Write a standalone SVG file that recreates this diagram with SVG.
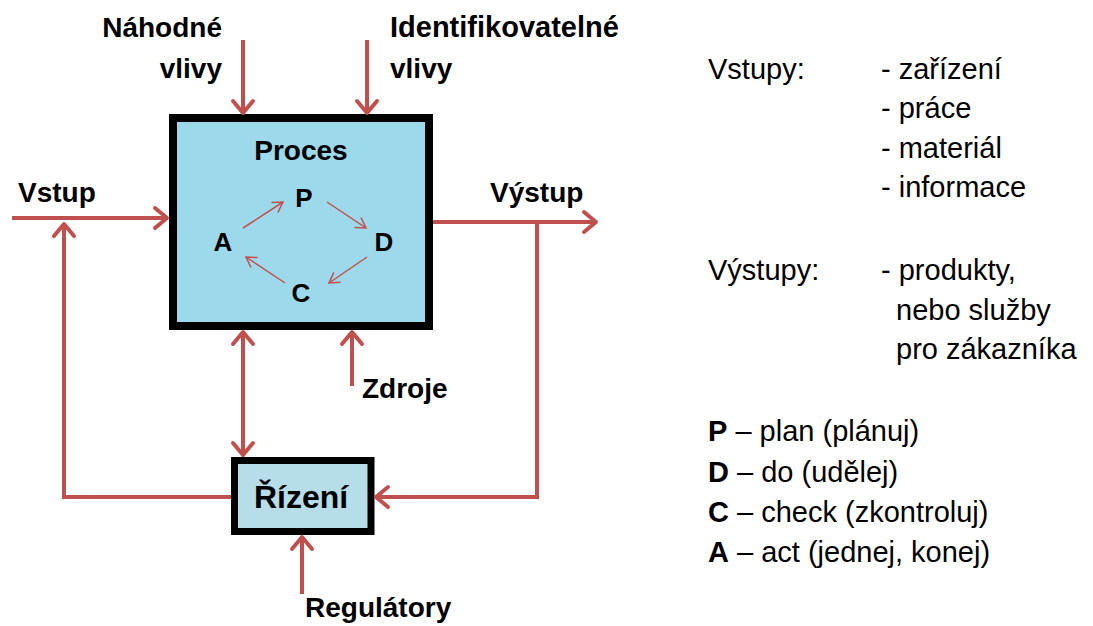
<svg xmlns="http://www.w3.org/2000/svg" width="1093" height="626" viewBox="0 0 1093 626">
<style>
.lbl{font-family:"Liberation Sans",Arial,sans-serif;font-weight:bold;font-size:28px;fill:#000}
.pd{font-family:"Liberation Sans",Arial,sans-serif;font-weight:bold;font-size:26px;fill:#000}
.txt{font-family:"Liberation Sans",Arial,sans-serif;font-size:29px;fill:#000}
.b{font-weight:bold}
.con{stroke:#C0504D;stroke-width:4;fill:none;marker-end:url(#ah)}
.thin{stroke:#C0504D;stroke-width:1.5;fill:none;marker-end:url(#ahs)}
</style>
<defs>
<marker id="ah" markerUnits="userSpaceOnUse" viewBox="-16 -14 20 28" refX="0" refY="0" markerWidth="20" markerHeight="28" orient="auto-start-reverse" overflow="visible">
<path d="M-12,-10 L0,0 L-12,10" fill="none" stroke="#C0504D" stroke-width="4" stroke-linejoin="round" stroke-linecap="round"/>
</marker>
<marker id="ahs" markerUnits="userSpaceOnUse" viewBox="-12 -8 14 16" refX="0" refY="0" markerWidth="14" markerHeight="16" orient="auto" overflow="visible">
<path d="M-10,-6 L0,0 L-10,6" fill="none" stroke="#C0504D" stroke-width="1.5"/>
</marker>
</defs>
<rect width="1093" height="626" fill="#fff"/>

<g id="proces">
<rect x="173" y="118" width="256" height="208" fill="#9DD9EA" stroke="#000" stroke-width="8"/>
<text class="lbl" x="301" y="160" text-anchor="middle">Proces</text>
<text class="pd" x="304" y="207" text-anchor="middle">P</text>
<text class="pd" x="223" y="251" text-anchor="middle">A</text>
<text class="pd" x="384" y="251" text-anchor="middle">D</text>
<text class="pd" x="301" y="302" text-anchor="middle">C</text>
</g>

<g id="rizeni">
<rect x="234.5" y="460.5" width="136.5" height="71" fill="#B6DDE8" stroke="#000" stroke-width="7"/>
<text class="lbl" x="301" y="508" text-anchor="middle" style="font-size:32px">Řízení</text>
</g>

<g id="connectors">
<line class="con" x1="243" y1="40" x2="243" y2="113"/>
<line class="con" x1="367" y1="40" x2="367" y2="113"/>
<line class="con" x1="12" y1="218" x2="167" y2="218"/>
<line class="con" x1="433" y1="222" x2="596" y2="222"/>
<polyline class="con" points="537,222 537,497 376,497"/>
<polyline class="con" points="231,497 64,497 64,224"/>
<line class="con" x1="243" y1="332" x2="243" y2="455" style="marker-start:url(#ah)"/>
<line class="con" x1="352" y1="386" x2="352" y2="332"/>
<line class="con" x1="302" y1="594" x2="302" y2="537"/>
<line class="thin" x1="243" y1="228" x2="283" y2="202"/>
<line class="thin" x1="327" y1="202" x2="366" y2="228"/>
<line class="thin" x1="367" y1="257" x2="329" y2="283"/>
<line class="thin" x1="285" y1="283" x2="246" y2="257"/>
</g>

<g id="labels">
<text class="lbl" x="222" y="37" text-anchor="end">Náhodné</text>
<text class="lbl" x="222" y="78" text-anchor="end">vlivy</text>
<text class="lbl" x="390" y="37" style="font-size:29px">Identifikovatelné</text>
<text class="lbl" x="390" y="78">vlivy</text>
<text class="lbl" x="18" y="202">Vstup</text>
<text class="lbl" x="490" y="202">Výstup</text>
<text class="lbl" x="362" y="398">Zdroje</text>
<text class="lbl" x="305" y="617">Regulátory</text>
</g>

<g id="legend">
<text class="txt" x="708" y="79">Vstupy:</text>
<text class="txt" x="881" y="79">- zařízení</text>
<text class="txt" x="881" y="118">- práce</text>
<text class="txt" x="881" y="158">- materiál</text>
<text class="txt" x="881" y="197">- informace</text>
<text class="txt" x="708" y="280">Výstupy:</text>
<text class="txt" x="881" y="280">- produkty,</text>
<text class="txt" x="896" y="320">nebo služby</text>
<text class="txt" x="896" y="359">pro zákazníka</text>
<text class="txt" x="708" y="441"><tspan class="b">P</tspan> – plan (plánuj)</text>
<text class="txt" x="708" y="482"><tspan class="b">D</tspan> – do (udělej)</text>
<text class="txt" x="708" y="522"><tspan class="b">C</tspan> – check (zkontroluj)</text>
<text class="txt" x="708" y="562"><tspan class="b">A</tspan> – act (jednej, konej)</text>
</g>
</svg>
